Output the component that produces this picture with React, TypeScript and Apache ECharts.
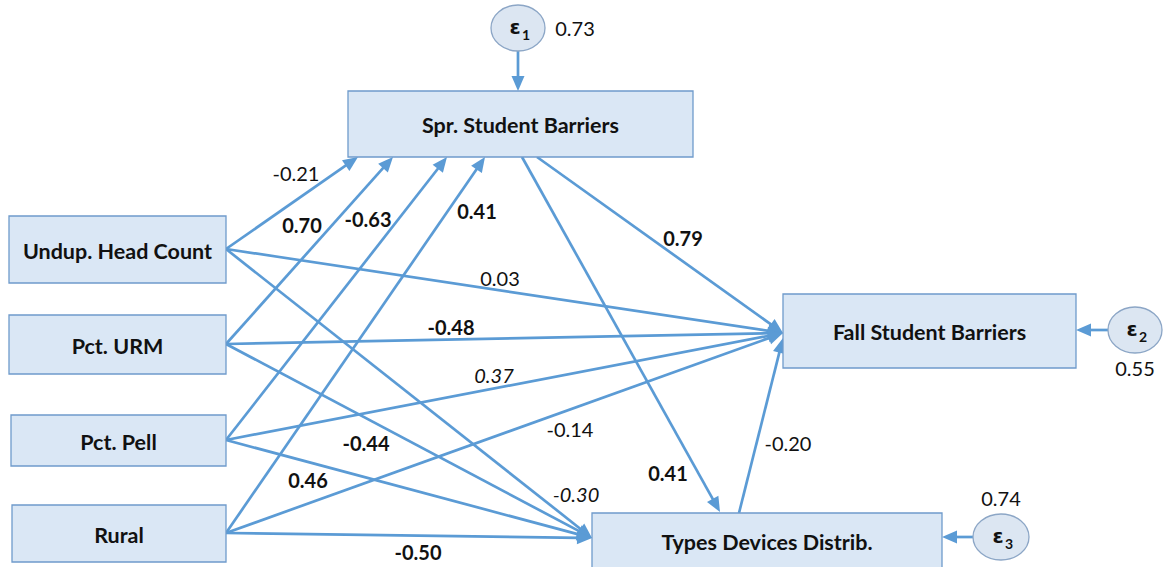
import React, { useEffect, useRef } from "react";
import * as echarts from "echarts";

const W = 1163;
const H = 567;
const BLUE = "#5B9BD5";
const FONT = "Lato";

// Observed variables (boxes): [x0, y0, x1, y1] in diagram units
const nodeNames = [
  "Spr. Student Barriers",
  "Undup. Head Count",
  "Pct. URM",
  "Pct. Pell",
  "Rural",
  "Fall Student Barriers",
  "Types Devices Distrib.",
];
const nodeBoxes = [
  [348, 91, 693, 157],
  [9, 216, 226, 283],
  [9, 315, 226, 374],
  [11, 415, 226, 466],
  [12, 505, 226, 562],
  [783, 294, 1076, 368],
  [592, 513, 942, 568],
];

// Error terms: [cx, cy, rx, ry]
const errorIndex = ["1", "2", "3"];
const errorEllipses = [
  [518, 28, 27, 23],
  [1135, 330, 27, 23],
  [1001, 537, 28, 23],
];
const errorVariances = ["0.73", "0.55", "0.74"];
const errorVarPos = [
  [575, 28],
  [1135, 368],
  [1001, 498],
];

// Paths: [xFrom, yFrom, xTo, yTo]
const paths = [
  [226, 249, 358, 157],
  [226, 344, 393, 157],
  [226, 440, 447, 157],
  [226, 533, 485, 157],
  [226, 249, 783, 333],
  [226, 344, 783, 333],
  [226, 440, 783, 333],
  [226, 533, 783, 333],
  [226, 249, 592, 538],
  [226, 344, 592, 538],
  [226, 440, 592, 538],
  [226, 533, 592, 538],
  [537, 157, 783, 333],
  [522, 157, 720, 512],
  [739, 513, 783, 338],
  [518, 51, 518, 91],
  [1108, 330, 1076, 330],
  [973, 537, 942, 537],
];

// Path coefficients: text, position, style ("b" bold, "i" italic, "n" normal)
const coefText = ["-0.21", "0.70", "-0.63", "0.41", "0.79", "0.03", "-0.48", "0.37", "-0.14", "-0.44", "0.46", "-0.30", "0.41", "-0.20", "-0.50"];
const coefPos = [
  [296, 173], [302, 225], [368, 219], [477, 211], [683, 238], [500, 278],
  [451, 327], [494, 375], [570, 429], [366, 443], [308, 480], [576, 494],
  [668, 473], [788, 443], [418, 552],
];
const coefStyle = ["n", "b", "b", "b", "b", "n", "b", "i", "n", "b", "b", "i", "b", "n", "b"];

export default function App() {
  const ref = useRef<HTMLDivElement>(null);
  useEffect(() => {
    if (!ref.current) return;
    const chart = echarts.init(ref.current, undefined, { renderer: "svg" });
    const option: any = {
      animation: false,
      backgroundColor: "#ffffff",
      grid: { left: 0, right: 0, top: 0, bottom: 0 },
      xAxis: { type: "value", min: 0, max: W, show: false },
      yAxis: { type: "value", min: 0, max: H, inverse: true, show: false },
      series: [
        {
          type: "custom",
          name: "paths",
          clip: false,
          data: paths,
          renderItem: (params: any, api: any) => {
            const p1 = api.coord([api.value(0), api.value(1)]);
            const p2 = api.coord([api.value(2), api.value(3)]);
            const dx = p2[0] - p1[0];
            const dy = p2[1] - p1[1];
            const len = Math.hypot(dx, dy);
            const ux = dx / len;
            const uy = dy / len;
            const hl = 15;
            const hw = 6.5;
            const bx = p2[0] - ux * hl;
            const by = p2[1] - uy * hl;
            return {
              type: "group",
              children: [
                {
                  type: "line",
                  shape: { x1: p1[0], y1: p1[1], x2: bx + ux * 2, y2: by + uy * 2 },
                  style: { stroke: BLUE, lineWidth: 2.7 },
                },
                {
                  type: "polygon",
                  shape: {
                    points: [
                      [p2[0], p2[1]],
                      [bx - uy * hw, by + ux * hw],
                      [bx + uy * hw, by - ux * hw],
                    ],
                  },
                  style: { fill: BLUE },
                },
              ],
            };
          },
          z: 1,
        },
        {
          type: "custom",
          name: "variables",
          clip: false,
          data: nodeBoxes,
          renderItem: (params: any, api: any) => {
            const a = api.coord([api.value(0), api.value(1)]);
            const b = api.coord([api.value(2), api.value(3)]);
            return {
              type: "group",
              children: [
                {
                  type: "rect",
                  shape: { x: a[0], y: a[1], width: b[0] - a[0], height: b[1] - a[1] },
                  style: { fill: "#DAE7F5", stroke: "#6F9BCB", lineWidth: 1.3 },
                },
                {
                  type: "text",
                  style: {
                    text: nodeNames[params.dataIndex],
                    x: (a[0] + b[0]) / 2,
                    y: (a[1] + b[1]) / 2 + 1,
                    align: "center",
                    verticalAlign: "middle",
                    fill: "#111111",
                    fontFamily: FONT,
                    fontWeight: "bold",
                    fontSize: 21.5,
                  },
                },
              ],
            };
          },
          z: 2,
        },
        {
          type: "custom",
          name: "errors",
          clip: false,
          data: errorEllipses,
          renderItem: (params: any, api: any) => {
            const c = api.coord([api.value(0), api.value(1)]);
            const e = api.coord([api.value(0) + api.value(2), api.value(1) + api.value(3)]);
            const rx = e[0] - c[0];
            const ry = e[1] - c[1];
            const i = params.dataIndex;
            const vp = api.coord(errorVarPos[i]);
            return {
              type: "group",
              children: [
                {
                  type: "ellipse",
                  shape: { cx: c[0], cy: c[1], rx, ry },
                  style: { fill: "#DCE6F2", stroke: "#8CA6C6", lineWidth: 1.3 },
                },
                {
                  type: "text",
                  style: {
                    text: "ε",
                    x: c[0] - 3,
                    y: c[1] - 1,
                    align: "center",
                    verticalAlign: "middle",
                    fill: "#111111",
                    fontFamily: "DejaVu Sans",
                    fontWeight: "bold",
                    fontSize: 20,
                  },
                },
                {
                  type: "text",
                  style: {
                    text: errorIndex[i],
                    x: c[0] + 8,
                    y: c[1] + 6,
                    align: "center",
                    verticalAlign: "middle",
                    fill: "#111111",
                    fontFamily: FONT,
                    fontWeight: "bold",
                    fontSize: 14,
                  },
                },
                {
                  type: "text",
                  style: {
                    text: errorVariances[i],
                    x: vp[0],
                    y: vp[1],
                    align: "center",
                    verticalAlign: "middle",
                    fill: "#111111",
                    fontFamily: FONT,
                    fontSize: 20,
                  },
                },
              ],
            };
          },
          z: 3,
        },
        {
          type: "custom",
          name: "coefficients",
          clip: false,
          data: coefPos,
          renderItem: (params: any, api: any) => {
            const p = api.coord([api.value(0), api.value(1)]);
            const s = coefStyle[params.dataIndex];
            return {
              type: "text",
              style: {
                text: coefText[params.dataIndex],
                x: p[0],
                y: p[1],
                align: "center",
                verticalAlign: "middle",
                fill: "#111111",
                fontFamily: FONT,
                fontWeight: s === "b" ? "bold" : "normal",
                fontStyle: s === "i" ? "italic" : "normal",
                fontSize: 20,
              },
            };
          },
          z: 4,
        },
      ],
    };
    chart.setOption(option);
    return () => chart.dispose();
  }, []);
  return (
    <div
      ref={ref}
      style={{ position: "absolute", left: 0, top: 0, width: W, height: H }}
    />
  );
}
